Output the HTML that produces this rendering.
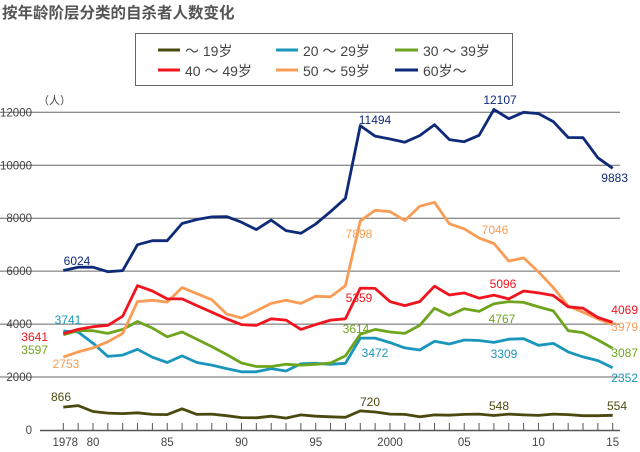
<!DOCTYPE html>
<html><head><meta charset="utf-8">
<style>
body{margin:0;background:#fff;}
svg{display:block;font-family:"Liberation Sans","Noto Sans CJK SC",sans-serif;}
</style></head>
<body>
<svg id="chart" width="640" height="452" viewBox="0 0 640 452" xmlns="http://www.w3.org/2000/svg">
<text x="2" y="18" font-size="15.5" font-weight="bold" fill="#555">按年龄阶层分类的自杀者人数变化</text>
<g>
<rect x="135.5" y="33.5" width="377" height="52" fill="#fff" stroke="#666" stroke-width="1"/>
<line x1="158" y1="50" x2="180" y2="50" stroke="#4a4a10" stroke-width="3"/><text x="185" y="56" font-size="14" fill="#444">～ 19岁</text>
<line x1="276" y1="50" x2="298" y2="50" stroke="#1a96bd" stroke-width="3"/><text x="303" y="56" font-size="14" fill="#444">20 ～ 29岁</text>
<line x1="395" y1="50" x2="418" y2="50" stroke="#6fa51e" stroke-width="3"/><text x="423" y="56" font-size="14" fill="#444">30 ～ 39岁</text>
<line x1="158" y1="70" x2="180" y2="70" stroke="#f0141e" stroke-width="3"/><text x="185" y="76" font-size="14" fill="#444">40 ～ 49岁</text>
<line x1="276" y1="70" x2="298" y2="70" stroke="#f99c55" stroke-width="3"/><text x="303" y="76" font-size="14" fill="#444">50 ～ 59岁</text>
<line x1="395" y1="70" x2="418" y2="70" stroke="#0e2a78" stroke-width="3"/><text x="423" y="76" font-size="14" fill="#444">60岁～</text>
</g>
<g id="grid"></g>
<g id="series"></g>
<g id="labels"></g>
</svg>
<script>
const years = [];
for (let y = 1978; y <= 2015; y++) years.push(y);
const yTicks = [0, 2000, 4000, 6000, 8000, 10000, 12000];
const xTickLabels = ["1978","80","85","90","95","2000","05","10","15"];
const xTickYears = [1978,1980,1985,1990,1995,2000,2005,2010,2015];

const age19 = [866,920,700,640,620,650,590,580,800,590,600,540,470,460,520,450,570,520,500,480,720,680,600,590,500,570,560,590,600,548,600,570,550,600,580,540,540,554];
const age20 = [3741,3700,3280,2780,2830,3050,2750,2550,2800,2550,2450,2320,2200,2200,2320,2230,2500,2520,2480,2520,3472,3472,3300,3100,3020,3350,3250,3400,3380,3309,3430,3450,3200,3270,2950,2760,2620,2352];
const age30 = [3597,3750,3750,3650,3800,4100,3850,3520,3700,3430,3150,2850,2530,2400,2400,2480,2450,2480,2530,2800,3614,3800,3700,3650,3950,4600,4330,4580,4480,4767,4850,4820,4650,4500,3750,3680,3400,3087];
const age40 = [3641,3800,3900,3950,4300,5450,5250,4950,4950,4700,4450,4200,3980,3950,4200,4150,3800,3980,4150,4200,5359,5350,4850,4700,4850,5430,5100,5180,4980,5096,4950,5250,5180,5080,4650,4600,4250,4069];
const age50 = [2753,2950,3100,3330,3650,4850,4900,4830,5380,5150,4920,4380,4230,4500,4780,4900,4780,5050,5030,5450,7898,8300,8250,7910,8450,8600,7790,7600,7250,7046,6380,6500,5970,5380,4680,4450,4200,3979];
const age60 = [6024,6150,6150,5980,6020,7000,7150,7150,7800,7950,8050,8060,7850,7570,7930,7530,7430,7780,8250,8750,11494,11100,10990,10870,11120,11530,10970,10890,11130,12107,11760,12000,11950,11650,11050,11040,10280,9883];

function xs(yr){ return 63.3 + (yr - 1978) * (612.7 - 63.3) / 37; }
function ys(v){ return 430 - v * (430 - 112.3) / 12000; }

const NS = "http://www.w3.org/2000/svg";
const grid = document.getElementById("grid");
const series = document.getElementById("series");
const labels = document.getElementById("labels");
function mk(tag, attrs, parent){ const e = document.createElementNS(NS, tag); for (const k in attrs) e.setAttribute(k, attrs[k]); parent.appendChild(e); return e; }

yTicks.forEach(t => {
  const y = ys(t);
  if (t > 0) {
    const l = mk("line", {x1:0, x2:620, y1:y, y2:y, stroke:"#666", "stroke-width":1}, grid);
    
    
  }
  const tx = mk("text", {x:32, y:y+4, "font-size":11.5, fill:"#444", "text-anchor":"end"}, grid);
  tx.textContent = t;
  
  
});
const unit = mk("text", {x:38, y:104, "font-size":11, fill:"#444"}, grid);
unit.textContent = "（人）";


const ax = mk("line", {x1:40, x2:620, y1:430.5, y2:430.5, stroke:"#555", "stroke-width":1.5}, grid);


years.forEach(yr => {
  const t = mk("line", {x1:xs(yr), x2:xs(yr), y1:423, y2:430, stroke:"#555", "stroke-width":1}, grid);
  
  
});
xTickYears.forEach((yr, i) => {
  const tx = mk("text", {x:xs(yr) + (i===0 ? 2 : 0), y:446, "font-size":11.5, fill:"#444", "text-anchor":"middle"}, grid);
  tx.textContent = xTickLabels[i];
  
  
});

const defs = [
  ["line-under-19", age19, "#4a4a10"],
  ["line-20-29", age20, "#1a96bd"],
  ["line-30-39", age30, "#6fa51e"],
  ["line-50-59", age50, "#f99c55"],
  ["line-40-49", age40, "#f0141e"],
  ["line-60-plus", age60, "#0e2a78"]
];
defs.forEach(d => {
  const pts = d[1].map((v,i) => xs(years[i]).toFixed(1) + "," + ys(v).toFixed(1)).join(" ");
  const p = mk("polyline", {points:pts, fill:"none", stroke:d[2], "stroke-width":2.8, "stroke-linejoin":"round"}, series);
  
  
});

const ann = [
  ["6024",77,265,"#0e2a78","middle"],["11494",375,124,"#0e2a78","middle"],["12107",500,104,"#0e2a78","middle"],["9883",628,182,"#0e2a78","end"],
  ["7898",359,238,"#f99c55","middle"],["7046",495,234,"#f99c55","middle"],["2753",66,368,"#f99c55","middle"],["3979",638,331,"#f99c55","end"],
  ["5359",359,302,"#f0141e","middle"],["5096",503,288,"#f0141e","middle"],["3641",48,341,"#f0141e","end"],["4069",638,314,"#f0141e","end"],
  ["3614",356,333,"#6fa51e","middle"],["4767",502,323,"#6fa51e","middle"],["3597",48,354,"#6fa51e","end"],["3087",638,357,"#6fa51e","end"],
  ["3472",375,357,"#1a96bd","middle"],["3309",504,358,"#1a96bd","middle"],["3741",68,324,"#1a96bd","middle"],["2352",638,382,"#1a96bd","end"],
  ["866",61,401,"#4a4a10","middle"],["720",370,406,"#4a4a10","middle"],["548",499,410,"#4a4a10","middle"],["554",617,410,"#4a4a10","middle"]
];
ann.forEach(a => {
  const t = mk("text", {x:a[1], y:a[2], "font-size":12, fill:a[3], "text-anchor":a[4]}, labels);
  t.textContent = a[0];
  
  
});
</script>
</body></html>
